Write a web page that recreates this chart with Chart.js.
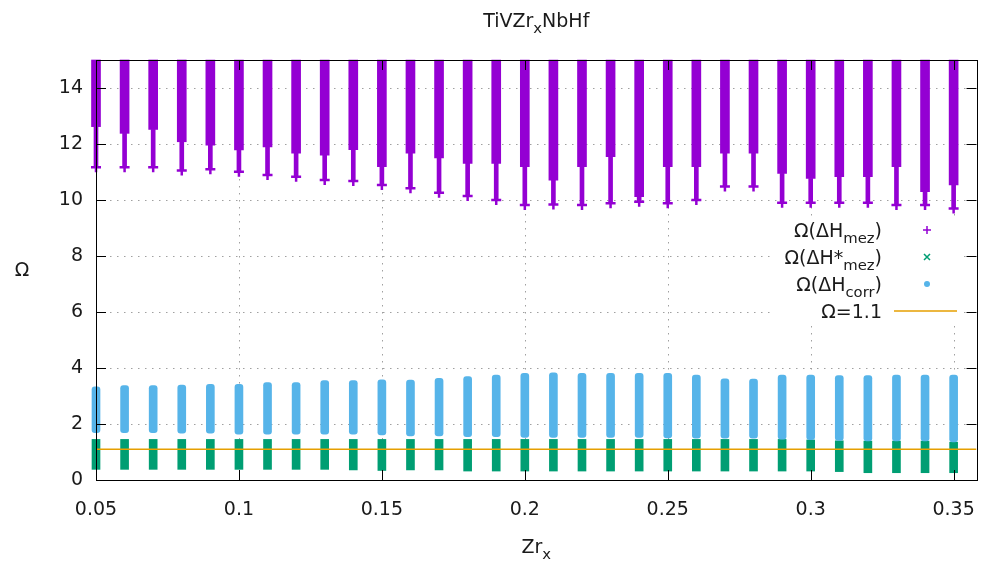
<!DOCTYPE html>
<html lang="en">
<head>
  <meta charset="UTF-8">
  <title>TiVZrxNbHf</title>
  <script src="https://cdn.jsdelivr.net/npm/chart.js"></script>
  <style>
    body { margin: 0; background: #fff; }
    #wrap { width: 984px; height: 562px; }
  </style>
</head>
<body>
  <div id="wrap"><canvas id="grafico" width="984" height="562"></canvas></div>

  <script>
// Zr fraction of every column
const zr = [0.05, 0.06, 0.07, 0.08, 0.09, 0.10, 0.11, 0.12, 0.13, 0.14, 0.15,
            0.16, 0.17, 0.18, 0.19, 0.20, 0.21, 0.22, 0.23, 0.24, 0.25,
            0.26, 0.27, 0.28, 0.29, 0.30, 0.31, 0.32, 0.33, 0.34, 0.35];
const xTicks = [0.05, 0.1, 0.15, 0.2, 0.25, 0.3, 0.35];
const yTicks = [0, 2, 4, 6, 8, 10, 12, 14];
const xMin = 0.05, xMax = 0.358, yMin = 0, yMax = 15;

// Ω(ΔHmez): columns run off the top of the plot; dense part down to mezDense, single points down to mezMin
const mezDense = [12.62, 12.38, 12.52, 12.08, 11.96, 11.79, 11.90, 11.67, 11.60, 11.80, 11.19,
                  11.67, 11.50, 11.31, 11.31, 11.19, 10.71, 11.19, 11.55, 10.12, 11.19,
                  11.19, 11.67, 11.67, 10.95, 10.77, 10.83, 10.83, 11.19, 10.30, 10.54];
const mezMin = [11.17, 11.17, 11.17, 11.05, 11.10, 11.01, 10.89, 10.83, 10.71, 10.68, 10.54,
                10.42, 10.26, 10.14, 10.00, 9.82, 9.84, 9.82, 9.88, 9.94, 9.88,
                10.00, 10.48, 10.48, 9.90, 9.90, 9.90, 9.90, 9.82, 9.82, 9.70];

// Ω(ΔH*mez)
const mezStarMin = [0.38, 0.38, 0.38, 0.38, 0.38, 0.38, 0.38, 0.38, 0.38, 0.36, 0.34,
                    0.36, 0.36, 0.32, 0.32, 0.32, 0.32, 0.32, 0.32, 0.32, 0.32,
                    0.32, 0.32, 0.32, 0.32, 0.32, 0.30, 0.26, 0.26, 0.26, 0.26];
const mezStarMax = [1.45, 1.45, 1.45, 1.45, 1.45, 1.45, 1.45, 1.45, 1.45, 1.45, 1.45,
                    1.45, 1.45, 1.45, 1.45, 1.45, 1.45, 1.45, 1.45, 1.45, 1.45,
                    1.45, 1.45, 1.45, 1.45, 1.43, 1.40, 1.39, 1.39, 1.39, 1.35];

// Ω(ΔHcorr)
const corrMin = [1.69, 1.69, 1.69, 1.67, 1.67, 1.64, 1.64, 1.64, 1.64, 1.64, 1.61,
                 1.57, 1.57, 1.55, 1.55, 1.52, 1.52, 1.52, 1.52, 1.52, 1.50,
                 1.49, 1.49, 1.49, 1.46, 1.44, 1.41, 1.40, 1.40, 1.40, 1.36];
const corrMax = [3.33, 3.37, 3.37, 3.39, 3.42, 3.42, 3.48, 3.48, 3.55, 3.55, 3.58,
                 3.57, 3.63, 3.69, 3.75, 3.81, 3.83, 3.81, 3.81, 3.81, 3.81,
                 3.75, 3.61, 3.60, 3.75, 3.75, 3.73, 3.73, 3.75, 3.75, 3.75];

const omegaLimit = 1.1;

const roxo = '#9400d3', verde = '#009e73', azul = '#56b4e9', laranja = '#e69f00';
const fonte = '"DejaVu Sans", sans-serif';
const tamanho = 19;

function setFont(ctx, size) { ctx.font = size + 'px ' + fonte; }

// text with subscripts: parts = [{t, sub}]
function richText(ctx, parts, x, y, align, size) {
  const w = p => { setFont(ctx, p.sub ? size * 0.78 : size); return ctx.measureText(p.t).width; };
  const total = parts.reduce((s, p) => s + w(p), 0);
  let cx = align === 'right' ? x - total : align === 'center' ? x - total / 2 : x;
  ctx.textAlign = 'left';
  ctx.textBaseline = 'alphabetic';
  parts.forEach(p => {
    const pw = w(p);
    ctx.fillText(p.t, cx, y + (p.sub ? size * 0.3 : 0));
    cx += pw;
  });
}

const gnuplotFrame = {
  id: 'gnuplotFrame',
  beforeDatasetsDraw(chart) {
    const { ctx, chartArea: a, scales: { x, y } } = chart;
    ctx.save();
    ctx.strokeStyle = '#a0a0a0';
    ctx.lineWidth = 1;
    ctx.setLineDash([1.5, 5.5]);
    ctx.beginPath();
    xTicks.forEach(v => {
      const px = Math.round(x.getPixelForValue(v)) + 0.5;
      ctx.moveTo(px, a.top); ctx.lineTo(px, a.bottom);
    });
    yTicks.forEach(v => {
      const py = Math.round(y.getPixelForValue(v)) + 0.5;
      ctx.moveTo(a.left, py); ctx.lineTo(a.right, py);
    });
    ctx.stroke();
    ctx.restore();
  },
  afterDatasetsDraw(chart) {
    const { ctx, chartArea: a, scales: { x, y } } = chart;
    ctx.save();
    // border and inward ticks, mirrored
    ctx.strokeStyle = '#000';
    ctx.lineWidth = 1;
    ctx.strokeRect(Math.round(a.left) + 0.5, Math.round(a.top) + 0.5,
                   Math.round(a.right - a.left), Math.round(a.bottom - a.top));
    ctx.beginPath();
    xTicks.forEach(v => {
      const px = Math.round(x.getPixelForValue(v)) + 0.5;
      ctx.moveTo(px, a.bottom); ctx.lineTo(px, a.bottom - 10);
      ctx.moveTo(px, a.top); ctx.lineTo(px, a.top + 10);
    });
    yTicks.forEach(v => {
      const py = Math.round(y.getPixelForValue(v)) + 0.5;
      ctx.moveTo(a.left, py); ctx.lineTo(a.left + 10, py);
      ctx.moveTo(a.right, py); ctx.lineTo(a.right - 10, py);
    });
    ctx.stroke();

    // key
    ctx.fillStyle = '#fff';
    ctx.fillRect(772, 217, 192, 108);
    const rows = [
      [{ t: 'Ω(ΔH' }, { t: 'mez', sub: true }, { t: ')' }],
      [{ t: 'Ω(ΔH*' }, { t: 'mez', sub: true }, { t: ')' }],
      [{ t: 'Ω(ΔH' }, { t: 'corr', sub: true }, { t: ')' }],
      [{ t: 'Ω=1.1' }]
    ];
    ctx.fillStyle = '#1a1a1a';
    rows.forEach((r, i) => richText(ctx, r, 882, 237 + i * 27, 'right', tamanho));
    const sx = 927;
    ctx.lineWidth = 1.5;
    ctx.strokeStyle = roxo;
    ctx.beginPath(); ctx.moveTo(sx - 4, 230); ctx.lineTo(sx + 4, 230); ctx.moveTo(sx, 226); ctx.lineTo(sx, 234); ctx.stroke();
    ctx.strokeStyle = verde;
    ctx.beginPath(); ctx.moveTo(sx - 3, 254); ctx.lineTo(sx + 3, 260); ctx.moveTo(sx + 3, 254); ctx.lineTo(sx - 3, 260); ctx.stroke();
    ctx.fillStyle = azul;
    ctx.beginPath(); ctx.arc(sx, 284, 3, 0, Math.PI * 2); ctx.fill();
    ctx.strokeStyle = laranja;
    ctx.lineWidth = 1.5;
    ctx.beginPath(); ctx.moveTo(894, 311); ctx.lineTo(957, 311); ctx.stroke();
    ctx.restore();
  },
  afterDraw(chart) {
    const { ctx, chartArea: a } = chart;
    const cx = (a.left + a.right) / 2;
    ctx.save();
    ctx.fillStyle = '#1a1a1a';
    richText(ctx, [{ t: 'TiVZr' }, { t: 'x', sub: true }, { t: 'NbHf' }], cx, 27, 'center', tamanho);
    richText(ctx, [{ t: 'Zr' }, { t: 'x', sub: true }], cx, 553, 'center', tamanho);
    richText(ctx, [{ t: 'Ω' }], 22, 276, 'center', tamanho);
    ctx.restore();
  }
};

const pares = (lo, hi) => zr.map((v, i) => ({ x: v, y: [lo[i], hi[i]] }));
const semPadding = s => { s.paddingLeft = 0; s.paddingRight = 0; s.paddingTop = 0; s.paddingBottom = 0; };

new Chart(document.getElementById('grafico').getContext('2d'), {
  type: 'bar',
  data: {
    datasets: [
      {
        label: 'Ω(ΔHmez)',
        data: pares(mezDense, zr.map(() => yMax)),
        backgroundColor: roxo,
        barThickness: 9,
        grouped: false,
        clip: false,
        order: 3
      },
      {
        label: 'Ω(ΔHmez) spread',
        data: pares(mezMin, mezDense),
        backgroundColor: roxo,
        barThickness: 4,
        grouped: false,
        clip: false,
        order: 3
      },
      {
        type: 'scatter',
        label: 'Ω(ΔHmez) lowest',
        data: zr.map((v, i) => ({ x: v, y: mezMin[i] })),
        pointStyle: 'cross',
        pointRadius: 5,
        borderWidth: 2.5,
        borderColor: roxo,
        clip: false,
        order: 3
      },
      {
        label: 'Ω(ΔH*mez)',
        data: pares(mezStarMin, mezStarMax),
        backgroundColor: verde,
        barThickness: 8,
        grouped: false,
        clip: false,
        order: 2
      },
      {
        label: 'Ω(ΔHcorr)',
        data: pares(corrMin, corrMax),
        backgroundColor: azul,
        barThickness: 8,
        borderRadius: 3,
        borderSkipped: false,
        grouped: false,
        clip: false,
        order: 1
      },
      {
        type: 'line',
        label: 'Ω=1.1',
        data: [{ x: xMin, y: omegaLimit }, { x: xMax, y: omegaLimit }],
        borderColor: laranja,
        borderWidth: 1.5,
        pointRadius: 0,
        order: 0
      }
    ]
  },
  options: {
    responsive: false,
    animation: false,
    devicePixelRatio: 1,
    layout: { padding: { left: 0, right: 4, top: 60, bottom: 0 } },
    plugins: {
      legend: { display: false },
      title: { display: false },
      tooltip: { enabled: false }
    },
    scales: {
      x: {
        type: 'linear',
        min: xMin,
        max: xMax,
        offset: false,
        grid: { display: false, drawTicks: false },
        border: { display: false },
        afterBuildTicks: s => { s.ticks = xTicks.map(v => ({ value: v })); },
        afterFit: s => { s.height = 82; semPadding(s); },
        ticks: {
          padding: 19,
          color: '#1a1a1a',
          font: { family: fonte, size: tamanho },
          callback: v => String(v)
        }
      },
      y: {
        type: 'linear',
        min: yMin,
        max: yMax,
        grid: { display: false, drawTicks: false },
        border: { display: false },
        afterBuildTicks: s => { s.ticks = yTicks.map(v => ({ value: v })); },
        afterFit: s => { s.width = 96; semPadding(s); },
        ticks: {
          padding: 13,
          color: '#1a1a1a',
          font: { family: fonte, size: tamanho }
        }
      }
    }
  },
  plugins: [gnuplotFrame]
});
</script>
</body>
</html>
